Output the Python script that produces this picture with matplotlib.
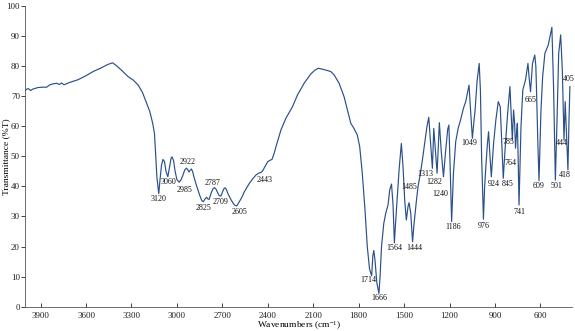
import numpy as np
import matplotlib
matplotlib.use("Agg")
import matplotlib.pyplot as plt

# FTIR spectrum: wavenumber (cm^-1) and transmittance (%T)
wavenumber = [
    4000, 3990, 3980, 3966, 3950, 3916, 3883, 3860, 3839, 3817, 3794, 3777,
    3761, 3746, 3707, 3652, 3601, 3553, 3497, 3454, 3425, 3403, 3365, 3322,
    3289, 3256, 3227, 3200, 3179, 3160, 3148, 3140, 3132, 3120, 3112, 3102,
    3092, 3082, 3072, 3060, 3048, 3038, 3032, 3022, 3012, 3000, 2985, 2972,
    2960, 2948, 2937, 2929, 2920, 2912, 2904, 2896, 2888, 2872, 2850, 2836,
    2825, 2815, 2804, 2795, 2787, 2774, 2762, 2752, 2742, 2730, 2720, 2709,
    2697, 2688, 2680, 2672, 2664, 2642, 2622, 2605, 2588, 2570, 2555, 2522,
    2500, 2478, 2460, 2443, 2432, 2423, 2401, 2385, 2372, 2358, 2346, 2313,
    2280, 2237, 2204, 2160, 2116, 2090, 2066, 2040, 2017, 1984, 1962, 1929,
    1896, 1874, 1852, 1831, 1809, 1793, 1776, 1758, 1743, 1728, 1714, 1706,
    1700, 1692, 1680, 1666, 1658, 1649, 1634, 1621, 1606, 1595, 1583, 1573,
    1564, 1556, 1548, 1533, 1518, 1507, 1496, 1485, 1474, 1467, 1456, 1444,
    1434, 1418, 1408, 1392, 1379, 1364, 1349, 1337, 1326, 1313, 1304, 1295,
    1282, 1267, 1255, 1240, 1227, 1212, 1204, 1196, 1186, 1174, 1159, 1143,
    1126, 1108, 1093, 1080, 1071, 1063, 1049, 1038, 1031, 1018, 1004, 996,
    988, 976, 968, 960, 950, 942, 935, 924, 909, 894, 878, 865,
    856, 845, 832, 816, 801, 793, 785, 777, 770, 764, 757, 752,
    747, 741, 734, 728, 716, 698, 682, 674, 665, 652, 637, 630,
    626, 617, 609, 602, 596, 585, 570, 548, 524, 513, 501, 490,
    479, 466, 455, 444, 436, 428, 418, 411, 405,
]
transmittance = [
    72.0, 72.4, 72.5, 71.9, 72.4, 72.9, 73.0, 73.0, 73.8, 74.1, 74.3, 73.9,
    74.4, 73.8, 74.6, 75.5, 76.8, 78.2, 79.5, 80.6, 81.1, 80.3, 78.6, 76.5,
    75.4, 73.7, 71.2, 67.7, 64.9, 61.0, 57.5, 50.0, 43.0, 37.6, 42.0, 47.0,
    49.0, 48.2, 45.0, 43.2, 46.6, 49.5, 49.8, 48.6, 45.0, 42.3, 41.4, 42.3,
    43.8, 45.5, 46.1, 45.6, 44.8, 45.4, 45.8, 44.9, 43.2, 40.5, 37.1, 35.3,
    34.9, 35.8, 36.4, 35.8, 35.7, 37.8, 39.2, 39.6, 39.1, 37.8, 36.9, 36.8,
    38.4, 39.4, 39.5, 38.8, 37.7, 35.5, 33.9, 33.5, 34.9, 36.5, 38.2, 41.0,
    42.5, 43.8, 44.4, 44.7, 45.3, 46.2, 48.2, 48.7, 49.0, 51.0, 53.2, 58.8,
    62.7, 66.5, 70.4, 74.3, 77.4, 78.6, 79.3, 79.0, 78.7, 78.2, 77.1, 74.3,
    69.8, 65.4, 61.0, 59.3, 57.1, 53.2, 44.4, 32.2, 20.0, 12.5, 10.3, 17.0,
    18.7, 15.5, 8.0, 4.4, 10.5, 20.0, 27.7, 31.1, 33.8, 38.8, 40.8, 34.0,
    21.2, 28.0, 34.0, 45.5, 54.3, 46.6, 35.5, 28.8, 33.3, 34.6, 31.1, 21.6,
    27.7, 35.5, 39.9, 44.4, 48.8, 54.3, 59.9, 63.0, 55.4, 46.0, 59.3, 53.0,
    44.4, 61.2, 52.0, 43.2, 51.0, 59.0, 60.4, 47.0, 28.3, 44.4, 54.9, 59.3,
    62.3, 66.0, 68.2, 71.5, 73.7, 67.0, 56.0, 62.0, 65.4, 75.0, 80.9, 72.0,
    50.0, 29.1, 40.0, 46.6, 54.0, 58.2, 52.0, 43.2, 54.3, 62.1, 68.2, 66.5,
    55.4, 42.7, 53.2, 64.3, 73.2, 64.3, 55.4, 65.4, 61.0, 52.7, 58.0, 61.0,
    50.0, 33.8, 48.0, 59.9, 72.1, 75.4, 80.9, 76.0, 71.5, 80.9, 83.7, 80.0,
    73.2, 55.0, 41.9, 55.0, 65.4, 76.5, 84.3, 87.0, 92.9, 73.2, 42.1, 62.1,
    84.3, 90.4, 78.7, 55.4, 68.2, 57.7, 45.5, 62.1, 73.2,
]

# Band assignments labelled on the spectrum
band_labels = [3120, 3060, 2985, 2922, 2825, 2787, 2709, 2605, 2443, 1714,
               1666, 1564, 1485, 1444, 1313, 1282, 1240, 1186, 1049, 976,
               924, 845, 785, 764, 741, 665, 609, 501, 444, 418, 405]
# label text offsets from each band point, in points
label_offsets = [(0, -4), (0.7, -4), (3.6, -5.8), (-0.7, 6.8), (0, -4.3),
                 (2.4, 12), (-0.5, -4.1), (1.9, -4.1), (2.5, -5.3), (-2.7, -3.1),
                 (0, -3.5), (0, -3.8), (1.9, 24), (1.4, -4.3), (-5.3, -4.1),
                 (-1.9, -6), (-2.4, -12.5), (1.4, -3.6), (-2.4, -3.6), (0, -4.6),
                 (1.4, -5.3), (3.2, -4.1), (-2.9, -1.7), (-3.3, -10.4), (0, -4.8),
                 (0, -6), (0, -3.6), (0.7, -4.1), (-1.4, -1.9), (-2.4, -3.6),
                 (-0.5, 5.3)]

x_ticks = [3900, 3600, 3300, 3000, 2700, 2400, 2100, 1800, 1500, 1200, 900, 600]
y_ticks = [0, 10, 20, 30, 40, 50, 60, 70, 80, 90, 100]

plt.rcParams["font.family"] = ["Liberation Serif", "DejaVu Serif"]
plt.rcParams["mathtext.fontset"] = "custom"
plt.rcParams["mathtext.rm"] = "Liberation Serif"
plt.rcParams["mathtext.it"] = "Liberation Serif:italic"

fig = plt.figure(figsize=(5.75, 3.31), dpi=100)
ax = fig.add_axes([0.0443, 0.0734, 0.950, 0.9085])

line_color = "#2a4f8c"
ax.plot(wavenumber, transmittance, color=line_color, lw=0.85)

ax.set_xlim(4000, 393)
ax.set_ylim(0, 100)
ax.set_xticks(x_ticks)
ax.set_yticks(y_ticks)
ax.tick_params(axis="x", direction="in", length=3, width=0.6, labelsize=6.5,
               pad=4, colors="#222222")
ax.tick_params(axis="y", direction="out", length=3, width=0.6, labelsize=6.5,
               pad=1.0, colors="#222222")
for side in ("top", "right"):
    ax.spines[side].set_visible(False)
for side in ("left", "bottom"):
    ax.spines[side].set_linewidth(0.6)
    ax.spines[side].set_color("#555555")

ax.set_xlabel("Wavenumbers (cm$^{-1}$)", fontsize=6.8, va="center")
ax.xaxis.set_label_coords(0.5, -0.062)
ax.set_ylabel("Transmittance (%T)", fontsize=6.8, va="center")
ax.yaxis.set_label_coords(-0.035, 0.5)

wn_asc = np.array(wavenumber[::-1], dtype=float)
t_asc = np.array(transmittance[::-1], dtype=float)
for band, (dx, dy) in zip(band_labels, label_offsets):
    t_val = np.interp(band, wn_asc, t_asc)
    ax.annotate(str(band), xy=(band, t_val), xytext=(dx, dy),
                textcoords="offset points", ha="center", va="center",
                fontsize=5.8, color="#111111")

fig.savefig("out.png", dpi=100)
